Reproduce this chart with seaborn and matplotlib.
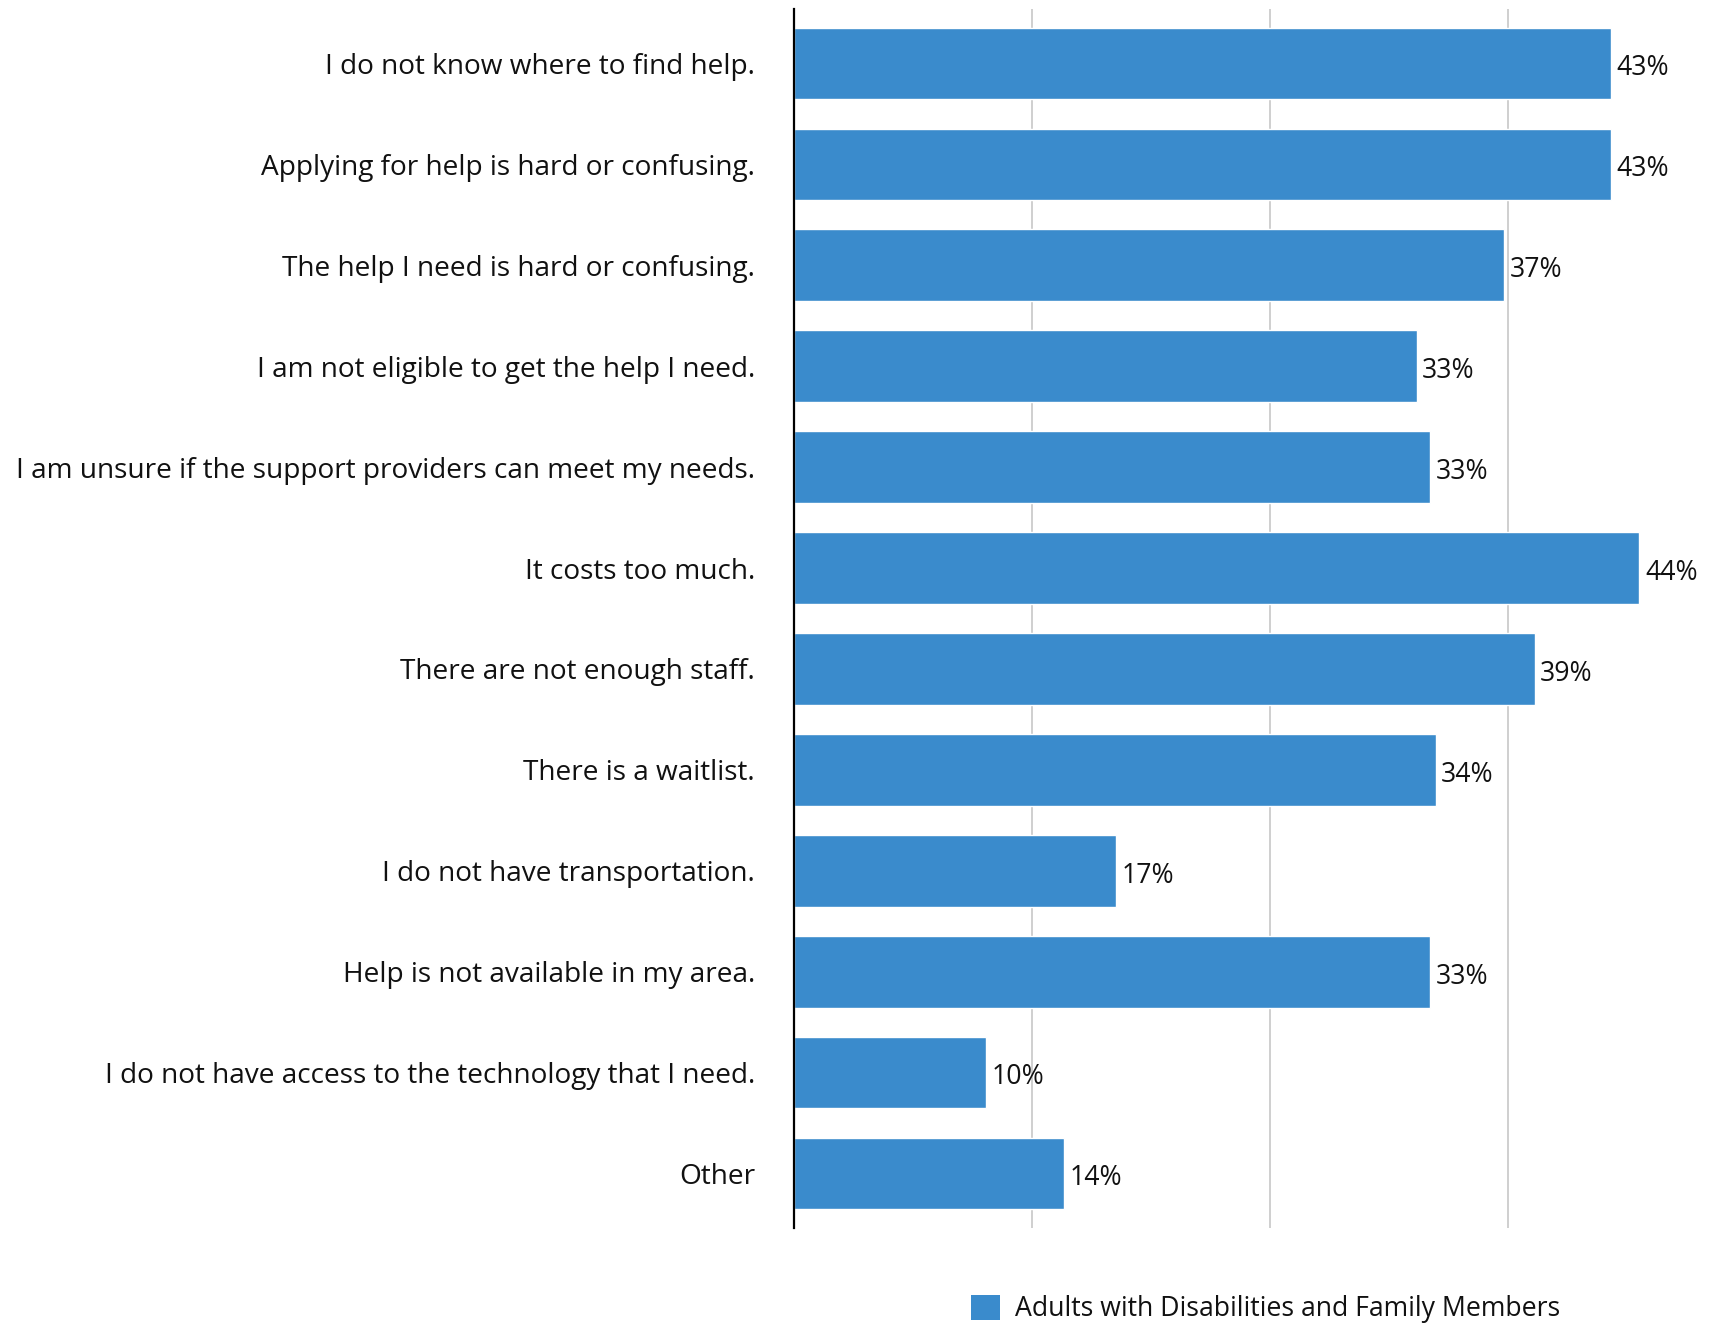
import matplotlib
matplotlib.use("Agg")
import matplotlib.pyplot as plt
from matplotlib.patches import Patch
import seaborn as sns
import pandas as pd

# Survey: reasons adults with disabilities and family members could not get help
reasons = [
    "I do not know where to find help.",
    "Applying for help is hard or confusing.",
    "The help I need is hard or confusing.",
    "I am not eligible to get the help I need.",
    "I am unsure if the support providers can meet my needs.",
    "It costs too much.",
    "There are not enough staff.",
    "There is a waitlist.",
    "I do not have transportation.",
    "Help is not available in my area.",
    "I do not have access to the technology that I need.",
    "Other",
]
percent = [42.9, 42.9, 37.3, 32.7, 33.4, 44.4, 38.9, 33.7, 16.9, 33.4, 10.1, 14.2]
series_name = "Adults with Disabilities and Family Members"
grid_values = [12.5, 25.0, 37.5]

BAR_COLOR = "#3A8BCC"
TEXT_COLOR = "#111111"

df = pd.DataFrame({"reason": reasons, "percent": percent})

sns.set_theme(style="white")
plt.rcParams["font.family"] = ["Open Sans", "DejaVu Sans"]

W, H, DPI = 1710, 1323, 100
fig = plt.figure(figsize=(W / DPI, H / DPI), dpi=DPI)
ax_left, ax_right = 794 / W, 1708 / W
ax_top, ax_bottom = 9.3 / H, 1227.7 / H
ax = fig.add_axes([ax_left, 1 - ax_bottom, ax_right - ax_left, ax_bottom - ax_top])

sns.barplot(
    data=df, x="percent", y="reason", orient="h",
    color=BAR_COLOR, saturation=1, width=0.71, ax=ax,
)

ax.set_xlim(0, 914 / 19.04)
ax.set_ylim(len(reasons) - 1 + 0.537, -0.537)

ax.set_xticks(grid_values)
ax.set_xticklabels([])
ax.xaxis.grid(True, color="#CCCCCC", linewidth=1.3)
ax.yaxis.grid(False)
ax.set_axisbelow(True)
ax.tick_params(axis="x", length=0)
ax.tick_params(axis="y", length=0, pad=28, labelsize=20.2, labelcolor=TEXT_COLOR)
ax.set_xlabel("")
ax.set_ylabel("")

for side in ("top", "right", "bottom"):
    ax.spines[side].set_visible(False)
ax.spines["left"].set_color("black")
ax.spines["left"].set_linewidth(1.6)

value_labels = ax.bar_label(
    ax.containers[0],
    labels=[f"{v:.0f}%" for v in percent],
    padding=4, fontsize=19.2, color=TEXT_COLOR,
)
# nudge the value labels so the digits sit on the bar's middle
for t in value_labels:
    x_off, y_off = t.xyann
    t.xyann = (x_off, y_off - 3.5)

handle = Patch(facecolor=BAR_COLOR, edgecolor="none", label=series_name)
fig.legend(
    handles=[handle], loc="center left",
    bbox_to_anchor=(960 / W, 1 - 1309 / H),
    frameon=False, fontsize=19.2, handlelength=1.1, handleheight=1.1,
    handletextpad=0.55, borderaxespad=0, labelcolor=TEXT_COLOR,
)

fig.savefig("out.png", dpi=DPI, facecolor="white")
